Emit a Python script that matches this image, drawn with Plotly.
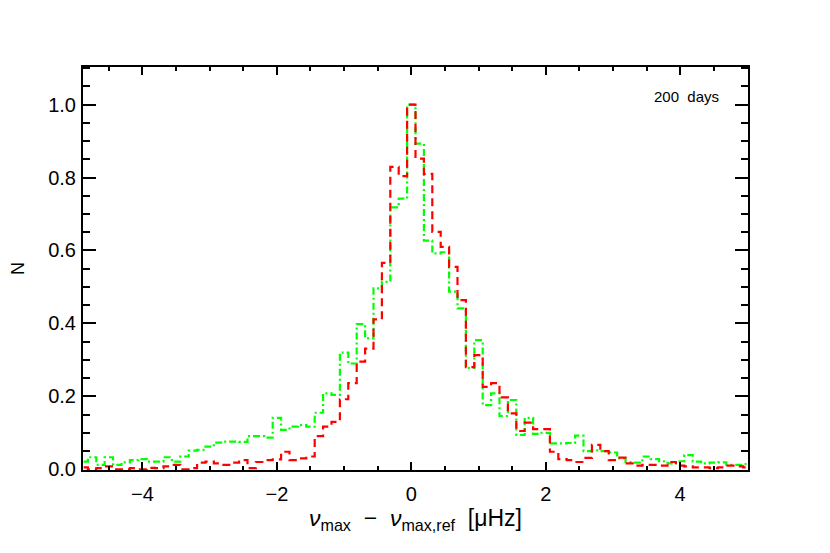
import numpy as np
import plotly.graph_objects as go

# ---- data ----
bin_width = 0.125
bin_index = list(range(-39, 41))  # bins centred on multiples of 0.125

green_counts = [
    0.021, 0.033, 0.012, 0.033, 0.012, 0.019, 0.025, 0.028, 0.021, 0.021,
    0.033, 0.021, 0.035, 0.051, 0.053, 0.062, 0.073, 0.076, 0.076, 0.075,
    0.091, 0.091, 0.087, 0.141, 0.108, 0.117, 0.121, 0.117, 0.155, 0.208,
    0.204, 0.320, 0.290, 0.398, 0.359, 0.496, 0.514, 0.718, 0.742, 1.000,
    0.893, 0.627, 0.592, 0.595, 0.487, 0.441, 0.278, 0.354, 0.176, 0.208,
    0.146, 0.190, 0.094, 0.141, 0.097, 0.100, 0.071, 0.071, 0.072, 0.092,
    0.050, 0.052, 0.050, 0.046, 0.030, 0.020, 0.018, 0.035, 0.028, 0.022,
    0.016, 0.022, 0.039, 0.021, 0.016, 0.018, 0.019, 0.012, 0.012, 0.014,
]

red_counts = [
    0.005, 0.000, 0.003, 0.008, 0.000, 0.000, 0.003, 0.000, 0.004, 0.003,
    0.008, 0.012, 0.000, 0.003, 0.018, 0.021, 0.016, 0.012, 0.018, 0.025,
    0.003, 0.020, 0.025, 0.027, 0.048, 0.025, 0.030, 0.035, 0.091, 0.117,
    0.130, 0.192, 0.236, 0.295, 0.331, 0.411, 0.566, 0.829, 0.804, 1.000,
    0.852, 0.810, 0.651, 0.610, 0.555, 0.464, 0.280, 0.313, 0.226, 0.236,
    0.197, 0.153, 0.105, 0.128, 0.110, 0.110, 0.048, 0.028, 0.025, 0.020,
    0.031, 0.067, 0.050, 0.025, 0.032, 0.016, 0.010, 0.012, 0.012, 0.010,
    0.020, 0.010, 0.008, 0.005, 0.005, 0.003, 0.005, 0.010, 0.008, 0.005,
]

x_ticks = [-4, -2, 0, 2, 4]
y_ticks = [0.0, 0.2, 0.4, 0.6, 0.8, 1.0]
annotation_text = "200  days"

centers = [i * bin_width for i in bin_index]

FONT = "Liberation Sans, Arial, sans-serif"

fig = go.Figure()
fig.add_trace(go.Scatter(
    x=centers, y=green_counts, mode="lines", line_shape="hvh",
    line=dict(color="#00ff00", width=2.2, dash="7px,3px,2px,3px"),
    showlegend=False, hoverinfo="skip",
))
fig.add_trace(go.Scatter(
    x=centers, y=red_counts, mode="lines", line_shape="hvh",
    line=dict(color="#ff0000", width=2.2, dash="8px,5px"),
    showlegend=False, hoverinfo="skip",
))

fig.add_annotation(
    x=0.96, y=0.926, xref="paper", yref="paper", text=annotation_text,
    showarrow=False, xanchor="right", yanchor="middle",
    font=dict(family=FONT, size=15, color="black"),
)

# page body has an 8px margin, so the figure is 822x545 and shifted
fig.update_layout(
    width=822, height=545,
    margin=dict(l=75, r=82, t=59, b=83, autoexpand=False),
    paper_bgcolor="white", plot_bgcolor="white",
    font=dict(family=FONT, size=20, color="black"),
)
fig.update_xaxes(
    automargin=False,
    range=[-4.885, 5.01], tickmode="array", tickvals=x_ticks,
    ticktext=[("\u2212" if v < 0 else "") + str(abs(v)) for v in x_ticks],
    ticks="inside", ticklen=8, tickwidth=2, tickcolor="black",
    showline=True, linewidth=2, linecolor="black", mirror="allticks",
    showgrid=False, zeroline=False,
    minor=dict(ticks="inside", ticklen=4, tickwidth=2, tickcolor="black",
               dtick=0.5, tick0=0, showgrid=False),
    tickfont=dict(family=FONT, size=20),
    ticklabelstandoff=5,
    title=dict(text="<i>\u03bd</i><sub>max</sub>  \u2212  <i>\u03bd</i><sub>max,ref</sub>  [\u03bcHz]",
               font=dict(family=FONT, size=23), standoff=6),
)
fig.update_yaxes(
    automargin=False,
    range=[-0.002, 1.103], tickmode="array", tickvals=y_ticks,
    ticktext=[f"{v:.1f}" for v in y_ticks],
    ticks="inside", ticklen=13, tickwidth=2, tickcolor="black",
    showline=True, linewidth=2, linecolor="black", mirror="allticks",
    showgrid=False, zeroline=False,
    minor=dict(ticks="inside", ticklen=7, tickwidth=2, tickcolor="black",
               dtick=0.05, tick0=0, showgrid=False),
    tickfont=dict(family=FONT, size=20),
    ticklabelstandoff=1,
    title=dict(text="N", font=dict(family=FONT, size=18), standoff=22),
)

fig.write_html("out.html")
